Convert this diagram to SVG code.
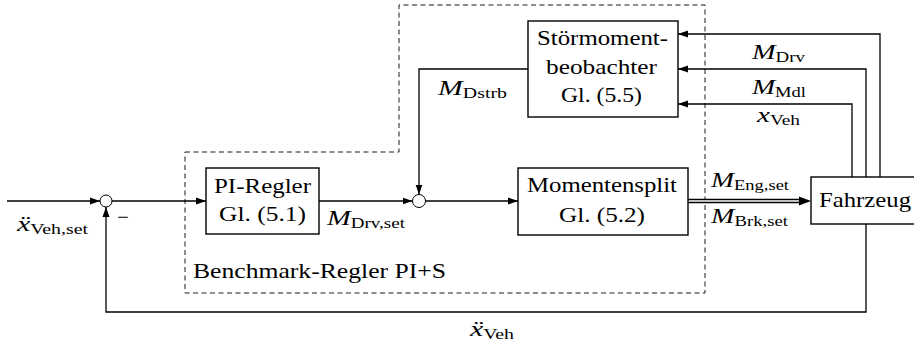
<svg xmlns="http://www.w3.org/2000/svg" width="914" height="345" viewBox="0 0 914 345">
<style>
.box{fill:#fff;stroke:#000;stroke-width:1.4}
.ln{fill:none;stroke:#000;stroke-width:1.3}
.sum{fill:#fff;stroke:#000;stroke-width:1}
.dash{fill:none;stroke:#000;stroke-width:0.9;stroke-dasharray:5,3.5}
text{font-family:'Liberation Serif','Times New Roman',serif;font-size:21px;fill:#000}
.i{font-style:italic}
.s{font-size:14px}
</style>
<defs>
<marker id="arr" markerUnits="userSpaceOnUse" markerWidth="11" markerHeight="8" refX="10" refY="4" orient="auto">
<path d="M0,0.5 L10,4 L0,7.5 z" fill="#000"/>
</marker>
<marker id="arr2" markerUnits="userSpaceOnUse" markerWidth="13" markerHeight="10" refX="12" refY="5" orient="auto">
<path d="M0,0.5 L12,5 L0,9.5 z" fill="#000"/>
</marker>
</defs>

<g id="frame">
<path class="dash" d="M185,152 H399 V5 H705 V293 H185 Z"/>
<text x="193" y="278" textLength="253" lengthAdjust="spacingAndGlyphs">Benchmark-Regler PI+S</text>
</g>

<g id="connectors">
<line class="ln" x1="7" y1="201" x2="100" y2="201" marker-end="url(#arr)"/>
<line class="ln" x1="112" y1="201" x2="206" y2="201" marker-end="url(#arr)"/>
<line class="ln" x1="319" y1="201" x2="412.5" y2="201" marker-end="url(#arr)"/>
<line class="ln" x1="425.5" y1="201" x2="518" y2="201" marker-end="url(#arr)"/>
<line x1="688" y1="201" x2="799" y2="201" stroke="#000" stroke-width="4.6"/>
<line x1="688" y1="201" x2="800" y2="201" stroke="#fff" stroke-width="1.6"/>
<line x1="798" y1="201" x2="811" y2="201" stroke="#000" stroke-width="0.1" marker-end="url(#arr2)"/>
<polyline class="ln" points="866,224 866,312 106,312 106,207" marker-end="url(#arr)"/>
<polyline class="ln" points="880,177 880,34 678,34" marker-end="url(#arr)"/>
<polyline class="ln" points="866,177 866,69 678,69" marker-end="url(#arr)"/>
<polyline class="ln" points="852,177 852,104 678,104" marker-end="url(#arr)"/>
<polyline class="ln" points="528,69 419,69 419,194.5" marker-end="url(#arr)"/>
</g>

<g id="sum1"><circle class="sum" cx="106" cy="201" r="6"/></g>
<g id="sum2"><circle class="sum" cx="419" cy="201" r="6.5"/></g>

<g id="pi">
<rect class="box" x="206" y="168" width="113" height="66"/>
<text x="214" y="193" textLength="97" lengthAdjust="spacingAndGlyphs">PI-Regler</text>
<text x="219" y="221" textLength="87" lengthAdjust="spacingAndGlyphs">Gl. (5.1)</text>
</g>

<g id="split">
<rect class="box" x="518" y="168" width="170" height="67"/>
<text x="527" y="192" textLength="150" lengthAdjust="spacingAndGlyphs">Momentensplit</text>
<text x="559" y="222" textLength="86" lengthAdjust="spacingAndGlyphs">Gl. (5.2)</text>
</g>

<g id="observer">
<rect class="box" x="528" y="21" width="150" height="96"/>
<text x="537" y="45" textLength="131" lengthAdjust="spacingAndGlyphs">Störmoment-</text>
<text x="546" y="74" textLength="111" lengthAdjust="spacingAndGlyphs">beobachter</text>
<text x="561" y="102" textLength="81" lengthAdjust="spacingAndGlyphs">Gl. (5.5)</text>
</g>

<g id="vehicle">
<rect class="box" x="811" y="177" width="108" height="47"/>
<text x="819" y="207" textLength="92" lengthAdjust="spacingAndGlyphs">Fahrzeug</text>
</g>

<g id="labels">
<text x="17" y="231" textLength="71" lengthAdjust="spacingAndGlyphs"><tspan class="i">ẍ</tspan><tspan class="s" dy="3">Veh,set</tspan></text>
<text x="117" y="224">−</text>
<text x="327" y="225" textLength="78" lengthAdjust="spacingAndGlyphs"><tspan class="i">M</tspan><tspan class="s" dy="3">Drv,set</tspan></text>
<text x="438" y="95" textLength="69" lengthAdjust="spacingAndGlyphs"><tspan class="i">M</tspan><tspan class="s" dy="3">Dstrb</tspan></text>
<text x="711" y="187" textLength="78" lengthAdjust="spacingAndGlyphs"><tspan class="i">M</tspan><tspan class="s" dy="3">Eng,set</tspan></text>
<text x="711" y="223" textLength="77" lengthAdjust="spacingAndGlyphs"><tspan class="i">M</tspan><tspan class="s" dy="3">Brk,set</tspan></text>
<text x="752" y="59" textLength="53" lengthAdjust="spacingAndGlyphs"><tspan class="i">M</tspan><tspan class="s" dy="3">Drv</tspan></text>
<text x="752" y="94" textLength="54" lengthAdjust="spacingAndGlyphs"><tspan class="i">M</tspan><tspan class="s" dy="3">Mdl</tspan></text>
<text x="757" y="122" textLength="43" lengthAdjust="spacingAndGlyphs"><tspan class="i">x</tspan><tspan class="s" dy="3">Veh</tspan></text>
<text x="470" y="336" textLength="44" lengthAdjust="spacingAndGlyphs"><tspan class="i">ẍ</tspan><tspan class="s" dy="3">Veh</tspan></text>
</g>
</svg>
